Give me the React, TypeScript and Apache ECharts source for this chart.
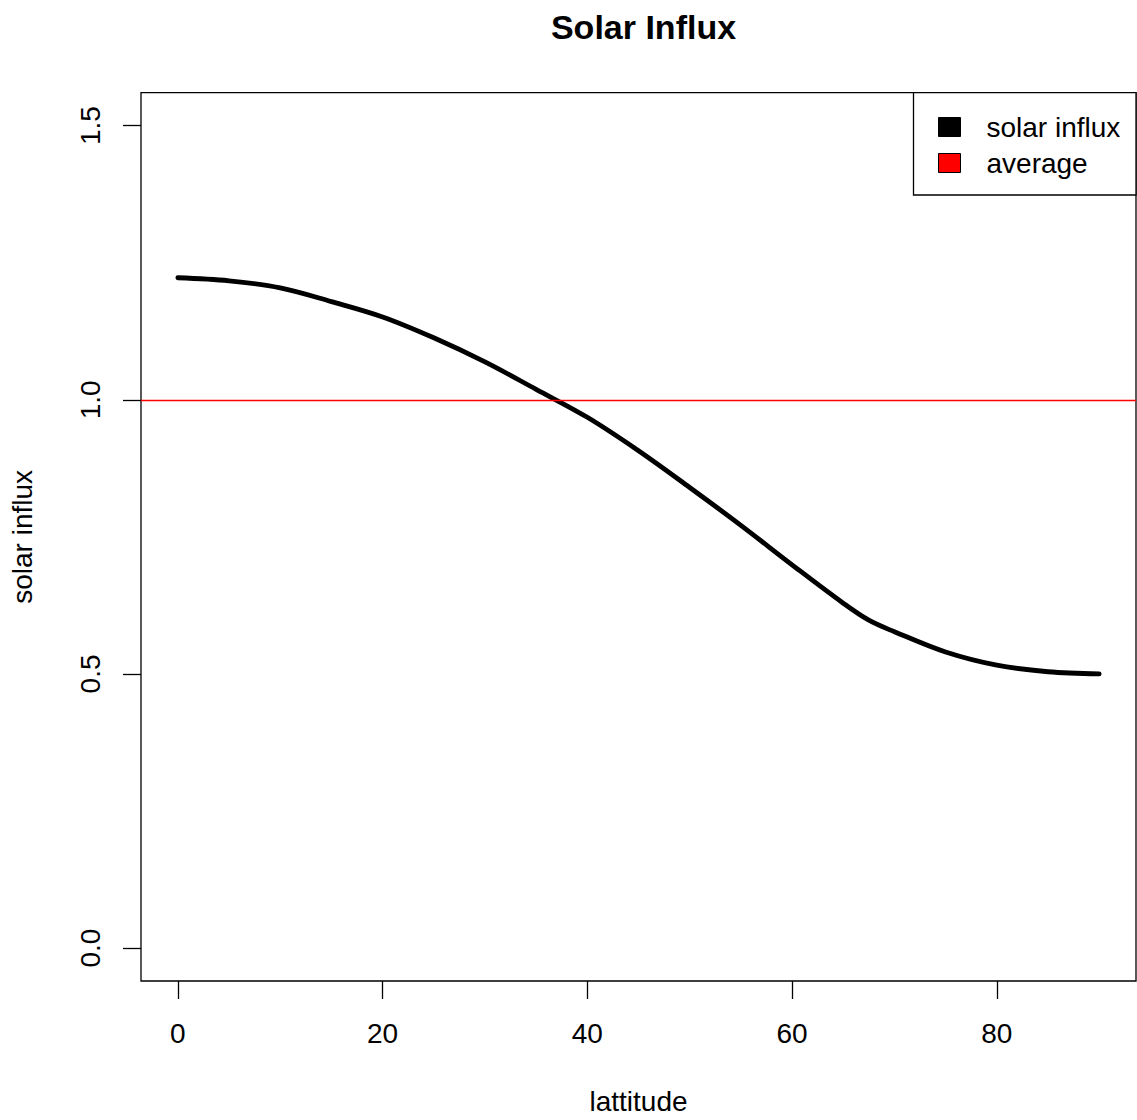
import React, { useEffect, useRef } from "react";
import * as echarts from "echarts";

const LATITUDE = [0, 5, 10, 15, 20, 25, 30, 35, 40, 45, 50, 55, 60, 65, 67.5, 70, 75, 80, 85, 90];
const INFLUX = [1.2225, 1.217, 1.204, 1.179, 1.151, 1.113, 1.069, 1.019, 0.968, 0.907, 0.84, 0.771, 0.699, 0.629, 0.598, 0.577, 0.54, 0.516, 0.504, 0.5];
const AVERAGE = 1.0;
const X_TICKS = [0, 20, 40, 60, 80];
const Y_TICKS = [0, 0.5, 1.0, 1.5];
const SERIES_NAMES = ["solar influx", "average"];

const FONT = "'Liberation Sans', Arial, Helvetica, sans-serif";

export default function App() {
  const ref = useRef<HTMLDivElement>(null);
  useEffect(() => {
    if (!ref.current) return;
    const chart = echarts.init(ref.current, null, { renderer: "svg" });
    const data = LATITUDE.map((x, i) => [x, INFLUX[i]]);
    chart.setOption({
      animation: false,
      backgroundColor: "#ffffff",
      textStyle: { fontFamily: FONT },
      title: {
        text: "Solar Influx",
        left: 638.5,
        textAlign: "center",
        top: 5,
        textStyle: { fontFamily: FONT, fontWeight: "bold", fontSize: 34, color: "#000" },
      },
      grid: {
        left: 141,
        top: 92.7,
        right: 1,
        bottom: 136.7,
        show: true,
        borderColor: "#000",
        borderWidth: 1.3,
        backgroundColor: "transparent",
      },
      legend: {
        orient: "vertical",
        left: 938,
        top: 113,
        padding: 0,
        z: 10,
        itemWidth: 22,
        itemHeight: 19,
        itemGap: 8,
        icon: "rect",
        data: SERIES_NAMES.map((n) => ({ name: n, itemStyle: { borderColor: "#000", borderWidth: 1 } })),
        textStyle: { fontFamily: FONT, fontSize: 28, color: "#000", padding: [0, 0, 0, 21] },
      },
      xAxis: {
        type: "value",
        min: -3.6,
        max: 93.6,
        name: "lattitude",
        nameLocation: "middle",
        nameGap: 120,
        nameTextStyle: { fontFamily: FONT, fontSize: 28, color: "#000", verticalAlign: "middle" },
        axisLine: { show: false, onZero: false },
        axisTick: { show: true, inside: false, length: 18, customValues: X_TICKS, lineStyle: { color: "#000", width: 1.3 } },
        axisLabel: { customValues: X_TICKS, margin: 38, fontFamily: FONT, fontSize: 28, color: "#000" },
        splitLine: { show: false },
      },
      yAxis: {
        type: "value",
        min: -0.06,
        max: 1.56,
        name: "solar influx",
        nameLocation: "middle",
        nameGap: 119,
        nameRotate: 90,
        nameTextStyle: { fontFamily: FONT, fontSize: 28, color: "#000", verticalAlign: "middle" },
        axisLine: { show: false, onZero: false },
        axisTick: { show: true, inside: false, length: 18, customValues: Y_TICKS, lineStyle: { color: "#000", width: 1.3 } },
        axisLabel: {
          customValues: Y_TICKS,
          rotate: 90,
          margin: 37,
          fontFamily: FONT,
          fontSize: 28,
          color: "#000",
          formatter: (v: number) => v.toFixed(1),
        },
        splitLine: { show: false },
      },
      series: [
        {
          name: SERIES_NAMES[0],
          type: "line",
          data,
          smooth: 0.35,
          showSymbol: false,
          color: "#000",
          itemStyle: { color: "#000" },
          lineStyle: { color: "#000", width: 4.8, cap: "round", join: "round" },
          z: 3,
        },
        {
          name: SERIES_NAMES[1],
          type: "line",
          data: [],
          color: "#ff0000",
          itemStyle: { color: "#ff0000" },
          markLine: {
            silent: true,
            symbol: "none",
            label: { show: false },
            lineStyle: { color: "#ff0000", width: 1.3, type: "solid" },
            data: [{ yAxis: AVERAGE }],
          },
          z: 2,
        },
      ],
      graphic: [
        {
          type: "rect",
          shape: { x: 913.5, y: 92.7, width: 222.5, height: 102.3 },
          style: { fill: "#fff", stroke: "#000", lineWidth: 1.3 },
          z: 1,
          silent: true,
        },
      ],
    });
    return () => chart.dispose();
  }, []);
  return <div ref={ref} style={{ position: "fixed", left: 0, top: 0, width: 1137, height: 1120 }} />;
}
